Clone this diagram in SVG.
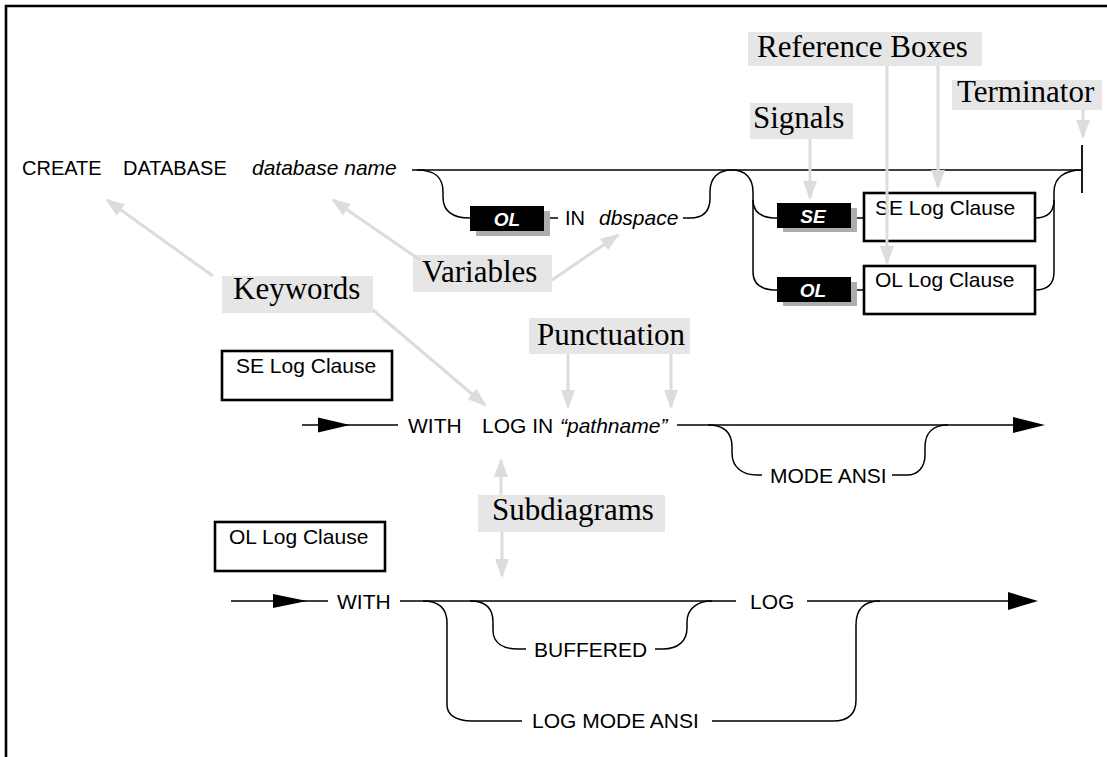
<svg xmlns="http://www.w3.org/2000/svg" width="1107" height="757" viewBox="0 0 1107 757">
<style>
.t{font-family:"Liberation Sans",Arial,sans-serif;font-size:21px;fill:#000}
.t20{font-size:20px}
.v{font-family:"Liberation Sans",Arial,sans-serif;font-size:21px;font-style:italic;fill:#000}
.sig{font-family:"Liberation Sans",Arial,sans-serif;font-size:19px;font-style:italic;font-weight:bold;fill:#fff;text-anchor:middle}
.lbl{font-family:"Liberation Serif","Times New Roman",serif;font-size:31px;fill:#000}
.lb{fill:#e6e6e6}
.ln{fill:none;stroke:#000;stroke-width:1.5}
.rb{fill:#fff;stroke:#000;stroke-width:2.6}
.sb{fill:#000}
.sh{fill:#adadad}
.ga{fill:none;stroke:#dcdcdc;stroke-width:3;marker-end:url(#gh)}
</style>
<defs>
<marker id="gh" markerUnits="userSpaceOnUse" markerWidth="20" markerHeight="14" refX="17" refY="7" orient="auto">
<path d="M0,0 L19,7 L0,14 z" fill="#dcdcdc"/>
</marker>
</defs>
<rect x="0" y="0" width="1107" height="757" fill="#fff"/>
<path d="M6,757 V6 H1107" fill="none" stroke="#000" stroke-width="2.6"/>

<g id="connectors">
<path class="ln" d="M412,170 H1082"/>
<path class="ln" d="M417,170 C436,170 443,178 443,192 V197 C443,211 452,218 470,218"/>
<path class="ln" d="M544,218 H558"/>
<path class="ln" d="M683,218 H690 C704,218 710,210 710,198 V192 C710,178 718,170 732,170"/>
<path class="ln" d="M732,170 C745,170 753,178 753,192 V272 C753,284 761,290 777,290"/>
<path class="ln" d="M753,200 C753,212 761,218 777,218"/>
<path class="ln" d="M851,218 H864"/>
<path class="ln" d="M851,290 H864"/>
<path class="ln" d="M1035,290 C1047,290 1054,284 1054,272 V192 C1054,178 1064,170 1082,170"/>
<path class="ln" d="M1035,218 C1047,218 1054,212 1054,200"/>
<path d="M1082,145 V193" stroke="#000" stroke-width="1.8"/>
<path class="ln" d="M302,425 H398"/>
<polygon points="318,417.5 350,425 318,432.5" fill="#000"/>
<path class="ln" d="M677,425 H1015"/>
<polygon points="1013,417 1045,425 1013,433" fill="#000"/>
<path class="ln" d="M708,425 C724,425 732,433 732,447 V453 C732,467 742,475 757,475 H762"/>
<path class="ln" d="M892,475 H907 C918,475 925,467 925,455 V447 C925,433 933,425 948,425"/>
<path class="ln" d="M231,601 H328"/>
<polygon points="273,594 307,601 273,608" fill="#000"/>
<path class="ln" d="M400,601 H736"/>
<path class="ln" d="M807,601 H1010"/>
<polygon points="1008,592 1038,601 1008,610" fill="#000"/>
<path class="ln" d="M423,601 C439,601 447,609 447,623 V705 C447,714 455,721 472,721 H522"/>
<path class="ln" d="M712,721 H833 C849,721 856,713 856,700 V625 C856,609 864,601 880,601"/>
<path class="ln" d="M470,601 C486,601 493,609 493,622 V630 C493,643 503,649 518,649 H526"/>
<path class="ln" d="M655,649 H663 C678,649 687,641 687,628 V622 C687,609 697,601 712,601"/>
</g>

<g id="row1-text">
<text class="t t20" x="22" y="175">CREATE</text>
<text class="t t20" x="123" y="175">DATABASE</text>
<text class="v" x="252" y="175">database name</text>
<text class="t t20" x="565" y="225">IN</text>
<text class="v" x="599" y="225">dbspace</text>
</g>

<g id="signal-ol-1">
<rect class="sh" x="476" y="211" width="74" height="25"/>
<rect class="sb" x="470" y="206" width="74" height="25"/>
<text class="sig" x="507" y="226">OL</text>
</g>
<g id="signal-se">
<rect class="sh" x="783" y="208" width="74" height="24"/>
<rect class="sb" x="777" y="203" width="74" height="25"/>
<text class="sig" x="813" y="223">SE</text>
</g>
<g id="signal-ol-2">
<rect class="sh" x="783" y="282" width="74" height="24"/>
<rect class="sb" x="777" y="277" width="74" height="25"/>
<text class="sig" x="813" y="297">OL</text>
</g>
<g id="ref-se">
<rect class="rb" x="864" y="193" width="171" height="48"/>
<text class="t" x="875" y="215">SE Log Clause</text>
</g>
<g id="ref-ol">
<rect class="rb" x="864" y="266" width="171" height="48"/>
<text class="t" x="875" y="287">OL Log Clause</text>
</g>

<g id="sub-se">
<rect class="rb" x="222" y="351" width="170" height="49"/>
<text class="t" x="236" y="373">SE Log Clause</text>
</g>
<g id="row2-text">
<text class="t" x="408" y="433">WITH</text>
<text class="t" x="482" y="433">LOG IN</text>
<text class="v" x="560" y="433">“pathname”</text>
<text class="t" x="770" y="483">MODE ANSI</text>
</g>

<g id="sub-ol">
<rect class="rb" x="215" y="522" width="170" height="49"/>
<text class="t" x="229" y="544">OL Log Clause</text>
</g>
<g id="row3-text">
<text class="t" x="337" y="609">WITH</text>
<text class="t" x="750" y="609">LOG</text>
<text class="t" x="534" y="657">BUFFERED</text>
<text class="t" x="532" y="728">LOG MODE ANSI</text>
</g>

<g id="label-reference-boxes">
<rect class="lb" x="748" y="32" width="234" height="34"/>
<text class="lbl" x="757" y="57">Reference Boxes</text>
</g>
<g id="label-terminator">
<rect class="lb" x="952" y="80" width="150" height="30"/>
<text class="lbl" x="957" y="102">Terminator</text>
</g>
<g id="label-signals">
<rect class="lb" x="750" y="103" width="103" height="36"/>
<text class="lbl" x="753" y="128">Signals</text>
</g>
<g id="label-keywords">
<rect class="lb" x="222" y="276" width="151" height="37"/>
<text class="lbl" x="233" y="299">Keywords</text>
</g>
<g id="label-variables">
<rect class="lb" x="413" y="255" width="139" height="37"/>
<text class="lbl" x="422" y="282">Variables</text>
</g>
<g id="label-punctuation">
<rect class="lb" x="529" y="318" width="161" height="36"/>
<text class="lbl" x="537" y="345">Punctuation</text>
</g>
<g id="label-subdiagrams">
<rect class="lb" x="478" y="495" width="187" height="37"/>
<text class="lbl" x="492" y="520">Subdiagrams</text>
</g>

<g id="annotation-arrows">
<path class="ga" d="M213,276 L107,200"/>
<path class="ga" d="M373,310 L485,405"/>
<path class="ga" d="M420,260 L333,200"/>
<path class="ga" d="M552,280 L618,235"/>
<path class="ga" d="M568,354 V407"/>
<path class="ga" d="M671,354 V407"/>
<path class="ga" d="M501,495 V460"/>
<path class="ga" d="M502,532 V576"/>
<path class="ga" d="M810,139 V198"/>
<path class="ga" d="M887,66 V263"/>
<path class="ga" d="M938,66 V187"/>
<path class="ga" d="M1083,110 V137"/>
</g>
</svg>
